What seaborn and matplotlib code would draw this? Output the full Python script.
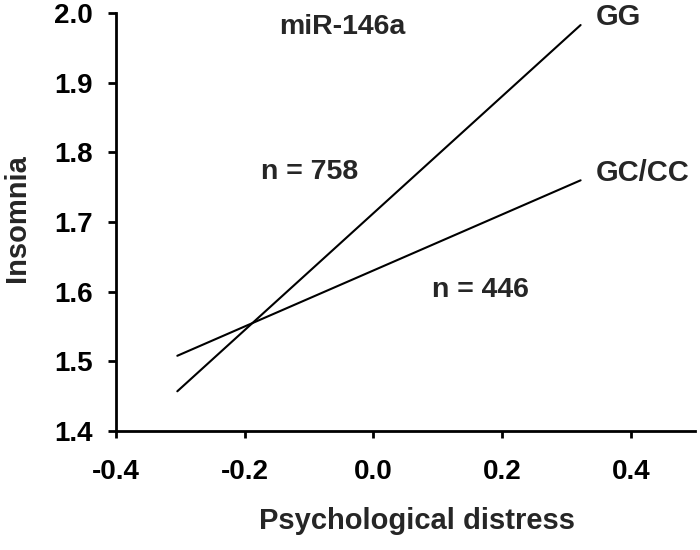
import matplotlib
matplotlib.use("Agg")
import matplotlib.pyplot as plt
import seaborn as sns
import pandas as pd

# Data
groups = ["GG", "GG", "GC/CC", "GC/CC"]
distress = [-0.305, 0.322, -0.305, 0.322]
insomnia = [1.457, 1.983, 1.508, 1.760]
x_ticks = [-0.4, -0.2, 0.0, 0.2, 0.4]
y_ticks = [1.4, 1.5, 1.6, 1.7, 1.8, 1.9, 2.0]
n_labels = ["n = 758", "n = 446"]

df = pd.DataFrame({"group": groups, "x": distress, "y": insomnia})

sns.set_style("ticks")
plt.rcParams['font.family'] = ['Liberation Sans', 'DejaVu Sans']
plt.rcParams['font.weight'] = 'bold'

fig = plt.figure(figsize=(7, 5.5), dpi=100)
ax = fig.add_axes([0.166, 0.2164, 0.827, 0.7596])

sns.lineplot(data=df, x="x", y="y", hue="group", palette=["black", "black"],
             linewidth=1.5, legend=False, ax=ax)

ax.set_xlim(-0.4, 0.5)
ax.set_ylim(1.4, 2.0)
ax.set_xticks(x_ticks)
ax.set_xticklabels([f"{v:.1f}" for v in x_ticks])
ax.set_yticks(y_ticks)
ax.set_yticklabels([f"{v:.1f}" for v in y_ticks])
ax.tick_params(axis='both', labelsize=20, width=2, colors='black')
ax.tick_params(axis='y', length=6, pad=11)
ax.tick_params(axis='x', length=5, pad=15)
for lab in ax.get_xticklabels() + ax.get_yticklabels():
    lab.set_fontweight('bold')

for s in ['top', 'right']:
    ax.spines[s].set_visible(False)
for s in ['left', 'bottom']:
    ax.spines[s].set_linewidth(2)
    ax.spines[s].set_color('black')

ax.set_xlabel("Psychological distress", fontsize=21, fontweight='bold', va='center')
ax.set_ylabel("Insomnia", fontsize=21, fontweight='bold', va='center')
# axes-fraction coordinates for label centres
ax.xaxis.set_label_coords((417 - 116) / 579, (431 - 521) / 418)
ax.yaxis.set_label_coords((17 - 116) / 579, (431 - 217.5) / 418)

ax.text(-0.048, 1.98, "miR-146a", fontsize=20.5, fontweight='bold', ha='center', va='center')
ax.text(0.345, 1.995, "GG", fontsize=21, fontweight='bold', ha='left', va='center')
ax.text(0.345, 1.77, "GC/CC", fontsize=21, fontweight='bold', ha='left', va='center')
ax.text(-0.1, 1.772, n_labels[0], fontsize=20.5, fontweight='bold', ha='center', va='center')
ax.text(0.166, 1.602, n_labels[1], fontsize=20.5, fontweight='bold', ha='center', va='center')

fig.savefig("out.png", dpi=100)
